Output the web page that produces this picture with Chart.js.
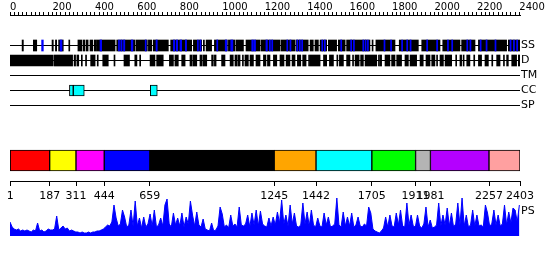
<!DOCTYPE html>
<html>
<head>
<meta charset="utf-8">
<script src="https://cdn.jsdelivr.net/npm/chart.js@4/dist/chart.umd.min.js"></script>
<style>
  body { margin: 0; background: #fff; }
  #wrap { position: relative; width: 550px; height: 260px; }
  #wrap canvas { position: absolute; left: 0; top: 0; }
</style>
</head>
<body>
<div id="wrap">
  <canvas id="ruler" width="550" height="260"></canvas>
  <canvas id="tracks" width="550" height="260"></canvas>
  <canvas id="domains" width="550" height="260"></canvas>
  <canvas id="ps" width="550" height="260"></canvas>
</div>
<script>
const LEN = 2403

// top ruler
const rulerLabels = [0, 200, 400, 600, 800, 1000, 1200, 1400, 1600, 1800, 2000, 2200, 2400]
const rulerStep = 20

// feature tracks
const trackNames = ['SS', 'D', 'TM', 'CC', 'SP']
const ssHelix = [
  [57, 63], [110, 126], [198, 204], [214, 220], [229, 251], [277, 281], [320, 339], [345, 352],
  [358, 368], [377, 390], [397, 408], [411, 495], [503, 589], [594, 647], [652, 668], [675, 746],
  [757, 856], [864, 903], [911, 916], [924, 950], [963, 1024], [1029, 1060], [1065, 1100],
  [1112, 1150], [1154, 1178], [1183, 1272], [1277, 1343], [1348, 1405], [1414, 1429], [1437, 1453],
  [1461, 1492], [1500, 1539], [1547, 1579], [1586, 1696], [1706, 1710], [1724, 1814], [1834, 1924],
  [1940, 2026], [2039, 2120], [2128, 2191], [2207, 2340], [2348, 2403]
]
const ssStrand = [
  [149, 157], [236, 245], [424, 432], [511, 516], [522, 528], [535, 541], [571, 579], [637, 641],
  [688, 694], [770, 776], [783, 790], [801, 809], [826, 832], [883, 887], [895, 900], [974, 979],
  [1014, 1022], [1040, 1050], [1139, 1147], [1151, 1157], [1206, 1213], [1222, 1227], [1233, 1238],
  [1304, 1308], [1319, 1324], [1351, 1356], [1363, 1368], [1374, 1379], [1469, 1473], [1481, 1486],
  [1558, 1563], [1605, 1610], [1618, 1623], [1662, 1666], [1673, 1677], [1684, 1688], [1762, 1767],
  [1793, 1798], [1845, 1850], [1869, 1874], [1885, 1890], [1963, 1968], [2010, 2015], [2061, 2066],
  [2081, 2086], [2152, 2157], [2167, 2172], [2215, 2220], [2243, 2248], [2285, 2290], [2356, 2361],
  [2372, 2377], [2387, 2392]
]
const disorder = [
  [0, 204], [209, 295], [302, 309], [315, 324], [336, 340], [356, 360], [380, 401], [411, 415],
  [437, 463], [490, 494], [537, 563], [588, 598], [611, 615], [660, 683], [691, 722], [751, 770],
  [777, 793], [809, 825], [848, 858], [862, 880], [895, 903], [908, 927], [950, 958], [963, 971],
  [997, 1013], [1037, 1052], [1060, 1070], [1074, 1084], [1095, 1099], [1107, 1123], [1131, 1147],
  [1159, 1178], [1194, 1206], [1213, 1225], [1241, 1257], [1272, 1275], [1277, 1291], [1301, 1319],
  [1329, 1343], [1354, 1370], [1379, 1395], [1407, 1410], [1414, 1461], [1477, 1492], [1505, 1524],
  [1540, 1543], [1552, 1571], [1586, 1602], [1614, 1617], [1626, 1645], [1652, 1665], [1673, 1728],
  [1736, 1739], [1743, 1751], [1767, 1790], [1798, 1814], [1822, 1845], [1861, 1877], [1885, 1916],
  [1932, 1947], [1960, 1979], [1987, 2002], [2010, 2013], [2026, 2042], [2050, 2081], [2100, 2104],
  [2120, 2128], [2135, 2139], [2152, 2167], [2185, 2189], [2207, 2222], [2238, 2254], [2270, 2274],
  [2293, 2309], [2325, 2329], [2340, 2348], [2364, 2387], [2395, 2403]
]
const coiledCoil = [[280, 298], [298, 350], [661, 694]]

// domains
const domainStarts = [1, 187, 311, 444, 659, 1245, 1442, 1705, 1911, 1981, 2257]
const domainEnds = [187, 311, 444, 659, 1245, 1442, 1705, 1911, 1981, 2257, 2403]
const domainColors = ['#ff0000', '#ffff00', '#ff00ff', '#0000ff', '#000000', '#ffa500',
  '#00ffff', '#00ff00', '#b4b4b4', '#b400ff', '#ffa0a0']
const domainTicks = [1, 187, 311, 444, 659, 1245, 1442, 1705, 1911, 1981, 2257, 2403]

// PS profile, one value every 10 residues
const psStep = 10
const psValues = [
  14, 9, 7, 6, 7, 5, 6, 5, 6, 5, 4, 6, 5, 13, 5, 6, 4, 5, 7, 6,
  6, 7, 20, 6, 8, 10, 7, 8, 5, 6, 5, 4, 4, 3, 4, 3, 3, 4, 3, 4,
  4, 5, 5, 6, 7, 9, 11, 10, 14, 31, 18, 10, 12, 26, 19, 9, 11, 26, 10, 35,
  10, 18, 8, 19, 9, 12, 22, 10, 26, 9, 11, 18, 10, 31, 37, 12, 9, 23, 11, 18,
  10, 23, 9, 19, 12, 35, 21, 10, 24, 11, 9, 17, 7, 6, 5, 13, 5, 6, 10, 29,
  22, 9, 11, 8, 21, 10, 12, 9, 29, 11, 10, 12, 21, 9, 23, 11, 26, 10, 25, 12,
  10, 9, 18, 10, 19, 11, 24, 13, 36, 12, 21, 10, 31, 12, 23, 10, 9, 11, 33, 12,
  24, 10, 26, 11, 9, 18, 10, 9, 23, 11, 19, 9, 10, 12, 38, 11, 9, 24, 10, 19,
  10, 23, 9, 11, 19, 10, 9, 12, 10, 29, 23, 7, 5, 4, 3, 5, 8, 19, 9, 21,
  10, 9, 23, 11, 26, 10, 9, 33, 11, 21, 10, 9, 21, 10, 8, 12, 29, 9, 16, 8,
  9, 11, 33, 10, 21, 11, 28, 10, 23, 9, 12, 33, 11, 38, 10, 21, 9, 11, 26, 10,
  21, 10, 11, 9, 31, 23, 10, 12, 26, 11, 21, 10, 12, 31, 11, 24, 13, 28, 26, 14, 31
]

const font = 'DejaVu Sans'
const noPlugins = { legend: { display: false }, tooltip: { enabled: false } }

// ruler
new Chart(document.getElementById('ruler'), {
  type: 'scatter',
  data: { datasets: [] },
  options: {
    responsive: false,
    animation: false,
    layout: { padding: { left: 10, right: 30, top: 0, bottom: 240 } },
    plugins: noPlugins,
    scales: {
      x: {
        type: 'linear', position: 'top', min: 0, max: LEN,
        afterBuildTicks: s => {
          const ticks = []
          for (let v = 0; v <= rulerLabels[rulerLabels.length - 1]; v += rulerStep) ticks.push({ value: v })
          s.ticks = ticks
        },
        afterFit: s => { s.height = 15 },
        grid: { drawOnChartArea: false, tickLength: 3, color: '#000' },
        border: { color: '#000' },
        ticks: {
          autoSkip: false, maxRotation: 0, align: 'start', padding: 0, color: '#000',
          font: { family: font, size: 10, lineHeight: 1 },
          callback: v => rulerLabels.includes(v) ? String(v) : ''
        }
      },
      y: { display: false }
    }
  }
})

// feature tracks
const seg = (list, name) => list.map(s => ({ x: s, y: name }))
new Chart(document.getElementById('tracks'), {
  type: 'bar',
  data: {
    labels: trackNames,
    datasets: [
      { data: seg(ssStrand, 'SS'), backgroundColor: '#0000ff' },
      { data: seg(ssHelix, 'SS'), backgroundColor: '#000' },
      { data: seg(disorder, 'D'), backgroundColor: '#000' },
      { data: seg(coiledCoil, 'CC'), backgroundColor: '#00ffff', borderColor: '#000', borderWidth: 1 }
    ]
  },
  options: {
    indexAxis: 'y',
    responsive: false,
    animation: false,
    datasets: { bar: { grouped: false, barThickness: 11, borderSkipped: false, minBarLength: 1 } },
    layout: { padding: { left: 10, right: 10, top: 38, bottom: 147 } },
    plugins: noPlugins,
    scales: {
      x: { type: 'linear', display: false, min: 0, max: LEN },
      y: {
        position: 'right',
        afterFit: s => { s.width = 20 },
        grid: { offset: false, drawTicks: false, color: '#000' },
        border: { display: false },
        ticks: { autoSkip: false, padding: 1, color: '#000', font: { family: font, size: 11 } }
      }
    }
  }
})

// domains
new Chart(document.getElementById('domains'), {
  type: 'bar',
  data: {
    labels: ['domains'],
    datasets: [{
      data: domainStarts.map((s, i) => ({ x: [s, domainEnds[i]], y: 'domains' })),
      backgroundColor: domainColors,
      borderColor: '#000',
      borderWidth: 1,
      borderSkipped: false,
      grouped: false,
      barThickness: 21
    }]
  },
  options: {
    indexAxis: 'y',
    responsive: false,
    animation: false,
    layout: { padding: { left: 10, right: 30, top: 140, bottom: 59 } },
    plugins: noPlugins,
    scales: {
      x: {
        type: 'linear', position: 'bottom', min: 0, max: LEN,
        afterBuildTicks: s => { s.ticks = domainTicks.map(v => ({ value: v })) },
        afterFit: s => { s.height = 20 },
        grid: { drawOnChartArea: false, tickLength: 5, color: '#000' },
        border: { color: '#000' },
        ticks: {
          autoSkip: false, maxRotation: 0, padding: 4, color: '#000',
          font: { family: font, size: 11 },
          callback: v => String(v)
        }
      },
      y: { display: false }
    }
  }
})

// PS profile
new Chart(document.getElementById('ps'), {
  type: 'line',
  data: {
    datasets: [{
      data: psValues.map((v, i) => ({ x: i * psStep, y: v })),
      borderColor: '#0000ff',
      backgroundColor: '#0000ff',
      borderWidth: 1,
      fill: 'origin',
      pointRadius: 0,
      tension: 0
    }]
  },
  options: {
    responsive: false,
    animation: false,
    layout: { padding: { left: 10, right: 10, top: 198, bottom: 24 } },
    plugins: noPlugins,
    scales: {
      x: { type: 'linear', display: false, min: 0, max: LEN },
      y: {
        position: 'right', min: 0, max: 38,
        afterBuildTicks: s => { s.ticks = [{ value: 25 }] },
        afterFit: s => { s.width = 20 },
        grid: { display: false, drawTicks: false },
        border: { display: false },
        ticks: { padding: 1, color: '#000', font: { family: font, size: 11 }, callback: () => 'PS' }
      }
    }
  }
})
</script>
</body>
</html>
